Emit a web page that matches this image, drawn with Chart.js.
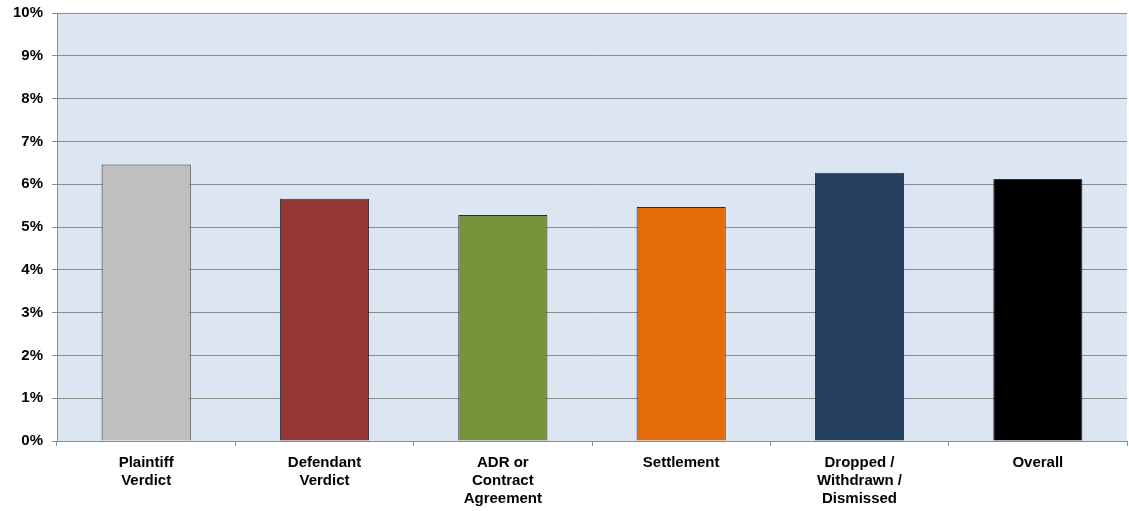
<!DOCTYPE html>
<html>
<head>
<meta charset="utf-8">
<script src="https://cdn.jsdelivr.net/npm/chart.js@4/dist/chart.umd.min.js"></script>
<style>
  html, body { margin: 0; padding: 0; background: #fff; }
  #wrap { width: 1129px; height: 511px; position: relative; }
</style>
</head>
<body>
<div id="wrap"><canvas id="chart"></canvas></div>
<script>
'use strict';

// Data
const categories = [
  ['Plaintiff', 'Verdict'],
  ['Defendant', 'Verdict'],
  ['ADR or', 'Contract', 'Agreement'],
  ['Settlement'],
  ['Dropped /', 'Withdrawn /', 'Dismissed'],
  ['Overall']
];
const values = [6.46, 5.66, 5.28, 5.47, 6.27, 6.12];
const barColors = ['#BFBFBF', '#953735', '#77933C', '#E46C0A', '#254061', '#000000'];
const yTicks = [0, 1, 2, 3, 4, 5, 6, 7, 8, 9, 10];

// plot area fill
const plotBg = {
  id: 'plotBg',
  beforeDraw(chart){
    const a = chart.chartArea, ctx = chart.ctx;
    ctx.save();
    ctx.fillStyle = '#DCE6F2';
    ctx.fillRect(a.left, a.top, a.right - a.left, a.bottom - a.top);
    ctx.restore();
  }
};

const font = { family: '"Liberation Sans", Arial, sans-serif', size: 15, weight: 'bold' };

new Chart(document.getElementById('chart').getContext('2d'), {
  type: 'bar',
  data: {
    labels: categories,
    datasets: [{
      data: values,
      backgroundColor: barColors,
      borderColor: 'rgba(0,0,0,0.8)',
      borderWidth: 1,
      barPercentage: 0.5,
      categoryPercentage: 1.0
    }]
  },
  options: {
    responsive: true,
    maintainAspectRatio: false,
    animation: false,
    layout: { padding: { top: 13, right: 2, left: 0, bottom: 0 } },
    plugins: { legend: { display: false }, tooltip: { enabled: false } },
    scales: {
      x: {
        offset: true,
        grid: { offset: true, drawOnChartArea: false, drawTicks: true, tickLength: 5, color: '#8C8C8C' },
        border: { color: '#8C8C8C', width: 1 },
        ticks: { color: '#000', font, padding: 8, maxRotation: 0, autoSkip: false },
        afterFit(s){ s.height = 70; }
      },
      y: {
        min: 0, max: 10,
        afterBuildTicks(s){ s.ticks = yTicks.map(v => ({ value: v })); },
        grid: { color: '#8C8C8C', lineWidth: 1, tickLength: 5 },
        border: { color: '#8C8C8C', width: 1 },
        ticks: { color: '#000', font, padding: 9, callback: (v) => v + '%' },
        afterFit(s){ s.width = 57; s.paddingTop = 0; s.paddingBottom = 0; }
      }
    }
  },
  plugins: [plotBg]
});
</script>
</body>
</html>
